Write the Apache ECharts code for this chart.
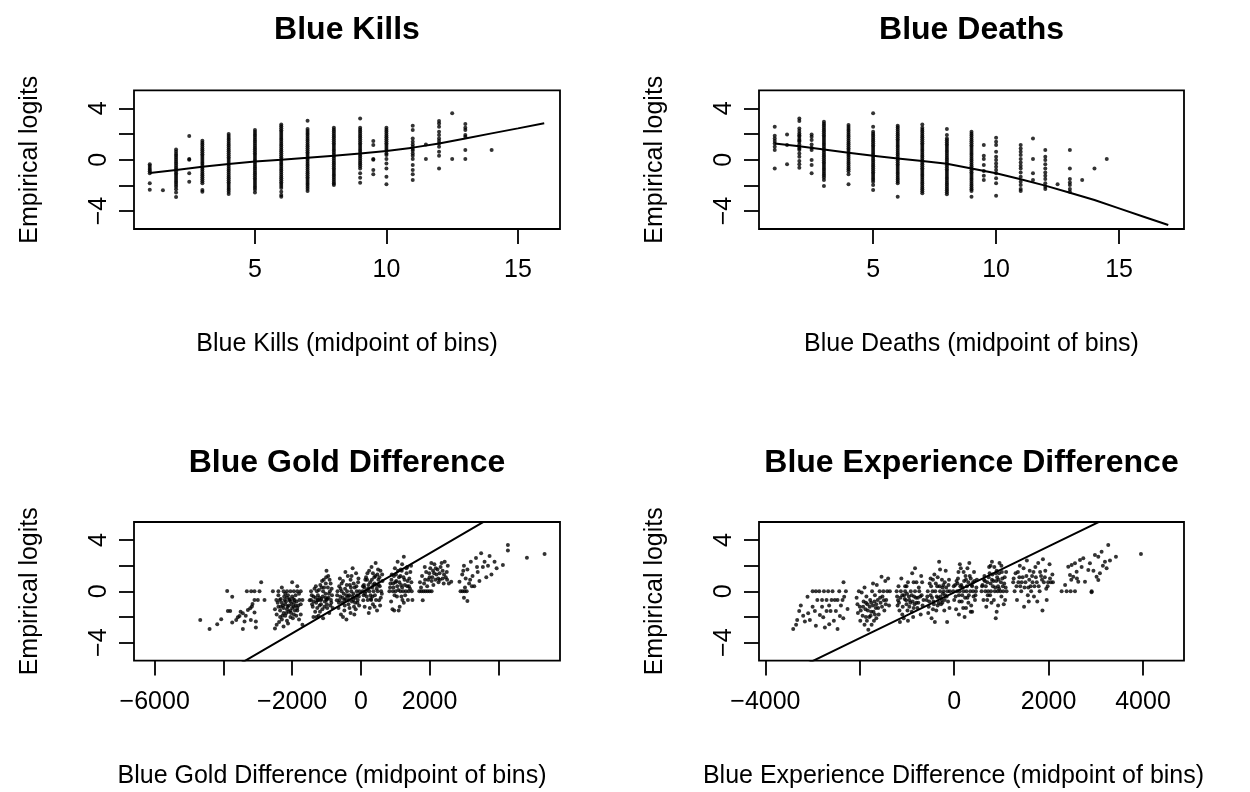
<!DOCTYPE html>
<html>
<head>
<meta charset="utf-8">
<script src="https://cdn.jsdelivr.net/npm/echarts@6/dist/echarts.min.js"></script>
<style>
  html, body { margin: 0; padding: 0; background: #fff; }
  #chart { width: 1250px; height: 792px; }
</style>
</head>
<body>
<div id="chart"></div>
<script>
// ---- Blue Kills: bin midpoints and empirical logits per bin ----
const killsX = [1, 1.5, 2, 2.5, 3, 4, 5, 6, 7, 8, 9, 9.5, 10, 11, 11.5, 12, 12.5, 13, 14];
const killsY = [
  [-0.36, -0.5, -0.64, -0.78, -0.9, -1.05, -1.84, -2.34],
  [-2.39],
  [0.8, 0.62, 0.45, 0.3, 0.15, 0, -0.15, -0.3, -0.45, -0.6, -0.75, -0.9, -1.05, -1.2, -1.35, -1.5, -1.65, -1.8, -1.95, -2.1, -2.3, -2.55, -2.9],
  [1.84, 0.05, 0, -1.06, -1.71],
  [1.48, 1.33, 1.18, 1.03, 0.88, 0.73, 0.58, 0.43, 0.28, 0.13, -0.02, -0.17, -0.32, -0.47, -0.62, -0.77, -0.92, -1.07, -1.22, -1.37, -1.52, -1.67, -1.84, -2.36, -2.49],
  [2.0, 1.85, 1.7, 1.55, 1.4, 1.25, 1.1, 0.95, 0.8, 0.65, 0.5, 0.35, 0.2, 0.05, -0.1, -0.25, -0.4, -0.55, -0.7, -0.85, -1.0, -1.15, -1.3, -1.45, -1.6, -1.75, -1.9, -2.05, -2.2, -2.35, -2.5, -2.68],
  [2.31, 2.16, 2.01, 1.86, 1.71, 1.56, 1.41, 1.26, 1.11, 0.96, 0.81, 0.66, 0.51, 0.36, 0.21, 0.06, -0.09, -0.24, -0.39, -0.54, -0.69, -0.84, -0.99, -1.14, -1.29, -1.44, -1.59, -1.74, -1.89, -2.04, -2.19, -2.34, -2.55],
  [2.75, 2.6, 2.45, 2.3, 2.15, 2.0, 1.85, 1.7, 1.55, 1.4, 1.25, 1.1, 0.95, 0.8, 0.65, 0.5, 0.35, 0.2, 0.05, -0.1, -0.25, -0.4, -0.55, -0.7, -0.85, -1.0, -1.15, -1.3, -1.45, -1.6, -1.75, -1.9, -2.05, -2.2, -2.5, -2.75, -2.88],
  [3.04, 2.39, 2.24, 2.09, 1.94, 1.79, 1.64, 1.49, 1.34, 1.19, 1.04, 0.89, 0.74, 0.59, 0.44, 0.29, 0.14, -0.01, -0.16, -0.31, -0.46, -0.61, -0.76, -0.91, -1.06, -1.21, -1.36, -1.51, -1.66, -1.81, -1.96, -2.11, -2.26, -2.44],
  [2.49, 2.34, 2.19, 2.04, 1.89, 1.74, 1.59, 1.44, 1.29, 1.14, 0.99, 0.84, 0.69, 0.54, 0.39, 0.24, 0.09, -0.06, -0.21, -0.36, -0.51, -0.66, -0.81, -0.96, -1.11, -1.26, -1.41, -1.56, -1.71, -1.86, -1.97],
  [3.22, 2.49, 2.34, 2.19, 2.04, 1.89, 1.74, 1.59, 1.44, 1.29, 1.14, 0.99, 0.84, 0.69, 0.54, 0.39, 0.24, 0.09, -0.06, -0.21, -0.36, -0.51, -0.68, -1.06, -1.4, -1.79],
  [1.45, 1.14, 0.05, 0, -0.8, -1.14],
  [2.49, 2.34, 2.19, 2.04, 1.89, 1.74, 1.59, 1.44, 1.29, 1.14, 0.99, 0.84, 0.69, 0.49, 0.36, 0.05, -0.29, -0.68, -1.32, -1.92],
  [2.65, 2.31, 1.66, 1.4, 1.19, 1.0, 0.83, 0.7, 0.49, 0.31, 0.05, -0.42, -0.8, -1.14, -1.58],
  [1.19, 0.05],
  [3.01, 2.83, 2.57, 2.18, 1.92, 1.66, 1.45, 1.27, 1.01, 0.62, 0.31, -0.68],
  [3.61, 0.05],
  [2.78, 2.49, 2.31, 1.92, 1.79, 0.75, 0.05],
  [0.75]
];
const killsFit = [[1, -1.03], [2, -0.8], [3, -0.55], [4, -0.33], [5, -0.14], [6, 0.0], [7, 0.15], [8, 0.31],
  [9, 0.48], [10, 0.68], [11, 0.94], [12, 1.27], [13, 1.66], [14, 2.05], [15, 2.44], [16, 2.84]];

// ---- Blue Deaths ----
const deathsX = [1, 1.5, 2, 2.5, 3, 4, 5, 6, 7, 8, 9, 9.5, 10, 11, 11.5, 12, 12.5, 13, 13.5, 14, 14.5];
const deathsY = [
  [2.57, 1.87, 1.66, 1.45, 1.27, 1.0, 0.75, -0.68],
  [1.97, 1.14, -0.36],
  [3.22, 3.01, 2.44, 2.23, 2.05, 1.9, 1.79, 1.61, 1.5, 1.4, 1.19, 1.01, 0.88, 0.75, 0.49, 0.23, -0.1, -0.36, -0.62],
  [1.97, 1.79, 1.53, 1.19, 0.94, 0.75, -0.03, -0.42, -1.06],
  [2.96, 2.81, 2.66, 2.51, 2.36, 2.21, 2.06, 1.91, 1.76, 1.61, 1.46, 1.31, 1.16, 1.01, 0.86, 0.71, 0.56, 0.41, 0.26, 0.11, -0.04, -0.19, -0.34, -0.49, -0.64, -0.79, -0.94, -1.09, -1.24, -1.39, -1.58, -2.05],
  [2.7, 2.55, 2.4, 2.25, 2.1, 1.95, 1.8, 1.65, 1.5, 1.35, 1.2, 1.05, 0.9, 0.75, 0.6, 0.45, 0.3, 0.15, 0, -0.15, -0.3, -0.45, -0.6, -0.75, -0.9, -1.14, -1.92],
  [3.61, 2.57, 2.18, 2.03, 1.88, 1.73, 1.58, 1.43, 1.28, 1.13, 0.98, 0.83, 0.68, 0.53, 0.38, 0.23, 0.08, -0.07, -0.22, -0.37, -0.52, -0.67, -0.82, -0.97, -1.12, -1.27, -1.42, -1.57, -1.72, -1.97, -2.36],
  [2.65, 2.5, 2.35, 2.2, 2.05, 1.9, 1.75, 1.6, 1.45, 1.3, 1.15, 1.0, 0.85, 0.7, 0.55, 0.4, 0.25, 0.1, -0.05, -0.2, -0.35, -0.5, -0.65, -0.8, -0.95, -1.1, -1.25, -1.4, -1.55, -1.7, -1.84, -2.88],
  [2.75, 2.49, 2.34, 2.19, 2.04, 1.89, 1.74, 1.59, 1.44, 1.29, 1.14, 0.99, 0.84, 0.69, 0.54, 0.39, 0.24, 0.09, -0.06, -0.21, -0.36, -0.51, -0.66, -0.81, -0.96, -1.11, -1.26, -1.41, -1.56, -1.71, -1.86, -2.01, -2.16, -2.31, -2.46, -2.62],
  [2.39, 1.92, 1.66, 1.51, 1.36, 1.21, 1.06, 0.91, 0.76, 0.61, 0.46, 0.31, 0.16, 0.01, -0.14, -0.29, -0.44, -0.59, -0.74, -0.89, -1.04, -1.19, -1.34, -1.49, -1.64, -1.79, -1.94, -2.09, -2.24, -2.39, -2.54, -2.7],
  [2.18, 2.03, 1.88, 1.73, 1.58, 1.43, 1.28, 1.13, 0.98, 0.83, 0.68, 0.53, 0.38, 0.23, 0.08, -0.07, -0.22, -0.37, -0.52, -0.67, -0.82, -0.97, -1.12, -1.27, -1.42, -1.57, -1.72, -1.87, -2.02, -2.17, -2.3, -2.44, -2.88],
  [1.14, 0.31, 0.05, -0.42, -0.88, -1.25, -1.58],
  [1.71, 1.4, 1.14, 0.62, 0.23, -0.03, -0.29, -0.55, -0.8, -1.06, -1.45, -1.84, -2.8],
  [1.14, 0.88, 0.62, 0.36, 0.05, -0.21, -0.47, -0.68, -0.99, -1.32, -1.71, -1.97, -2.29, -2.44],
  [1.66, 0.05, -1.06, -1.58],
  [0.75, 0.23, -0.03, -0.36, -0.68, -0.99, -1.25, -1.51, -1.84, -2.1, -2.29],
  [-1.92],
  [0.75, -0.68, -1.51, -1.77, -1.97, -2.29, -2.49],
  [-1.58],
  [-0.68],
  [0.05]
];
const deathsFit = [[1, 1.27], [2, 1.05], [3, 0.8], [4, 0.55], [5, 0.3], [6, 0.1], [7, -0.1], [8, -0.31], [9, -0.68],
  [10, -1.06], [11, -1.52], [12, -2.02], [13, -2.57], [14, -3.14], [15, -3.79], [16, -4.44], [17, -5.09]];

// ---- Blue Gold Difference: [midpoint, empirical logit] ----
const goldPts = [
  [-4674, -2.23], [-4403, -2.94], [-4180, -2.57], [-4064, -2.18], [-3890, 0.03], [-3744, -0.42], [-3870, -1.53], [-3802, -1.53],
  [-3744, -2.44], [-3628, -2.23], [-3580, -2.03], [-3531, -1.92], [-3434, -1.71], [-3386, -2.36], [-3289, -1.45], [-3221, -1.32],
  [-3172, -1.19], [-3434, -2.94], [-3318, 0], [-3192, 0], [-3095, 0], [-2950, 0], [-2901, 0.7], [-3202, -2.23], [-3095, -0.68],
  [-2998, -0.68], [-3153, -0.99], [-3056, -2.36], [-3056, -2.83], [-3095, -1.66], [-2804, -0.68], [-3500, -1.6], [-3350, -1.9],
  [-2560, 0], [-2400, 0], [-2250, 0], [-2150, 0], [-2050, 0], [-1950, 0], [-1850, 0], [-1750, 0],
  [-2460, -0.68], [-2360, -0.68], [-2220, -0.68], [-2080, -0.68], [-1930, -0.68], [-1790, -0.68], [-1700, -0.68],
  [-2500, -2.9], [-2450, -2.6], [-2380, -2.4], [-2300, -2.2], [-2250, -2.75], [-2200, -1.9], [-2150, -2.3], [-2100, -1.6],
  [-2050, -2.0], [-2000, -1.3], [-1950, -1.8], [-1900, -1.1], [-1850, -1.5], [-1800, -2.2], [-1750, -1.0], [-2450, -1.8],
  [-2400, -1.2], [-2350, -1.5], [-2300, -0.9], [-2250, -1.3], [-2200, -1.0], [-2150, -0.5], [-2100, -1.1], [-2050, -0.8],
  [-2000, -0.4], [-1950, -0.9], [-1900, -0.3], [-1850, -1.3], [-1800, -0.2], [-1750, -1.8], [-2350, -2.0], [-2250, -1.7],
  [-2150, -1.4], [-2050, -1.5], [-1950, -1.2], [-2400, -0.3], [-2300, 0.3], [-2000, 0.7], [-1850, 0.4], [-2200, -0.2],
  [-1700, -2.6], [-2500, -1.4], [-2120, -2.5], [-1980, -2.1],
  [-2420, -0.9], [-2330, -0.6], [-2270, -1.1], [-2180, -0.8], [-2130, -1.2], [-2070, -0.6], [-2020, -1.0], [-1970, -0.6],
  [-1920, -1.5], [-1870, -0.8], [-2230, -0.4], [-2120, -0.3], [-2030, -1.7], [-1880, -1.9], [-2280, -1.9], [-2170, -1.7],
  [-2330, -1.2], [-1820, -1.1],
  [-1490, -0.7], [-1450, 0], [-1400, -1.2], [-1380, -0.4], [-1350, 0.2], [-1330, -1.6], [-1300, -0.9], [-1280, 0],
  [-1250, -0.3], [-1230, -1.9], [-1200, -1.1], [-1180, 0.5], [-1150, -0.6], [-1120, -1.4], [-1100, 0], [-1080, 0.9],
  [-1050, -0.8], [-1030, -0.2], [-1000, 1.6], [-990, -1.0], [-960, 0.3], [-940, -0.5], [-920, -1.7], [-900, 0],
  [-880, 0.6], [-860, -0.9], [-840, -0.3], [-820, -1.3], [-1420, -1.0], [-1260, -0.7], [-1140, 0.3], [-1060, -1.2],
  [-980, -0.6], [-1220, 0.1], [-1320, -0.5], [-1170, -0.7], [-1020, 0.6], [-950, 1.2], [-1380, -2.0], [-1100, -2.1],
  [-870, -0.68], [-1250, -0.68], [-1000, -0.68], [-1450, -0.68],
  [-1430, -0.3], [-1370, -0.8], [-1310, 0.4], [-1270, -1.3], [-1210, -0.5], [-1160, -1.0], [-1110, -0.4], [-1070, 0.3],
  [-1030, -0.5], [-980, -1.3], [-930, -0.2], [-890, -1.1], [-850, 0.2], [-1190, -1.6], [-1290, -2.0], [-1010, 1.1],
  [-1130, 0.8], [-910, 0.9],
  [-700, -0.7], [-680, 0], [-650, -1.3], [-630, 0.4], [-600, -0.4], [-580, -1.8], [-560, 0], [-540, -0.9], [-520, 0.8],
  [-500, -0.2], [-480, -1.5], [-460, 0.2], [-440, -0.6], [-420, -2.2], [-400, 0], [-380, 1.2], [-360, -1.0], [-340, -0.3],
  [-320, 0.5], [-300, -1.7], [-280, 0], [-260, -0.8], [-240, 1.8], [-220, -0.2], [-200, -1.2], [-180, 0.3], [-160, -0.5],
  [-140, 1.4], [-120, 0], [-100, -0.9], [-80, 0.7], [-60, -0.4], [-40, 0], [-620, -0.68], [-480, -0.68], [-350, -0.68],
  [-220, -0.68], [-90, -0.68], [-560, 0.6], [-420, -0.3], [-300, 0.9], [-150, -1.4], [-520, -2.0],
  [-690, -0.3], [-640, -0.9], [-590, 0.2], [-530, -0.5], [-470, -1.1], [-410, 0.5], [-370, -0.4], [-330, -1.3],
  [-290, 0.3], [-250, -0.4], [-210, 0.6], [-170, -0.9], [-130, 0.4], [-110, -0.3], [-70, 1.0], [-50, -1.1],
  [-610, 1.0], [-450, 1.5], [-270, 1.2], [-190, -1.8],
  [50, 0], [70, -0.7], [90, 0.5], [110, -1.2], [130, 0.9], [150, 0], [170, -0.4], [190, 1.4], [210, 0.2], [230, -1.7],
  [250, 0], [270, 0.7], [290, -0.6], [310, 1.9], [330, 0.3], [350, -1.0], [370, 0], [390, 1.1], [410, -0.3], [430, 2.2],
  [450, 0.5], [470, -1.5], [490, 0], [510, 0.9], [530, -0.7], [550, 0.4], [570, 1.6], [590, 0], [610, -0.2], [630, 0.8],
  [100, 0.3], [200, -0.68], [300, -0.68], [400, 0.6], [480, 1.3], [560, -1.1], [150, 1.1], [260, -1.3], [350, 1.4], [440, -0.68],
  [60, 0.4], [120, -0.2], [180, 0.9], [220, 0.5], [280, -0.3], [320, 0.9], [360, 0.5], [420, 1.2], [460, 0.2],
  [520, 0.5], [580, -0.5], [620, 1.3], [240, 1.6], [400, -1.2], [500, 1.7], [80, -0.3], [340, -0.4], [540, 1.1],
  [830, 0], [860, 0.6], [880, -0.8], [900, 1.3], [930, 0], [950, 0.3], [970, -1.5], [990, 1.8], [1010, 0], [1030, 0.8],
  [1050, -0.4], [1070, 2.3], [1090, 0.1], [1110, 1.1], [1130, -1.2], [1150, 0], [1170, 0.5], [1190, 1.6], [1210, -0.68],
  [1230, 0], [1250, 2.7], [1270, 0.9], [1290, -0.3], [1310, 0], [1330, 1.4], [1350, 0.4], [1370, -0.68], [1390, 0],
  [1410, 1.0], [1430, 0.2], [1460, 2.0], [1480, 0], [1500, -0.68], [920, -1.4], [1100, -1.5], [1200, 2.1], [1350, 1.9],
  [1000, 0.7], [1150, 1.2],
  [850, 0.3], [890, 0.9], [940, 0.6], [980, -0.3], [1020, 1.3], [1060, 0.4], [1120, 0.7], [1160, 1.7], [1200, 0.3],
  [1240, 1.1], [1280, 0.5], [1320, 1.8], [1360, 0.8], [1400, 0.4], [1440, 1.5], [1470, 0.7], [1080, 1.6], [1250, -0.9],
  [960, 1.2], [1180, -0.4],
  [1700, 0], [1760, 0], [1820, 0], [1880, 0], [1940, 0], [2000, 0], [2060, 0], [1800, -0.7], [1720, 0.7], [1780, 1.2],
  [1840, 0.6], [1900, 1.5], [1960, 0.9], [2020, 1.8], [2080, 1.1], [2140, 2.1], [2200, 1.3], [2260, 0.7], [2320, 1.9],
  [2380, 1.0], [2440, 2.3], [2500, 1.5], [2560, 0.6], [1860, 1.9], [1990, 1.4], [2110, 0.5], [2230, 1.7], [2350, 2.2],
  [2470, 1.1], [1930, 0.4], [2050, 2.2], [2170, 0.9], [2290, 1.4], [2410, 0.6], [2530, 2.0], [2100, 1.6], [2300, 0.9],
  [1750, 0.3], [1870, 0.9], [2000, 1.1], [2130, 1.4], [2250, 1.0], [2380, 1.6], [2510, 0.9], [2060, 0.8], [2180, 1.8], [2420, 1.3],
  [2630, 0.75], [2870, 0.75], [2900, 0], [2960, 0], [3020, 0], [3080, 0], [3000, -0.5], [3100, -0.75], [2950, 1.3],
  [3000, 2.0], [3050, 1.0], [3100, 1.7], [3150, 0.6], [3200, 2.3], [3250, 1.2], [3300, 0.4], [3350, 2.6], [3400, 1.5],
  [3450, 0.8], [3500, 2.96], [3550, 1.9], [3600, 2.3], [3650, 1.1], [3700, 2.0], [3745, 2.75], [3800, 1.3], [3890, 2.31],
  [3950, 1.8], [4133, 2.05], [2980, 1.6], [3180, 0.9], [3380, 1.9], [3030, 0.3], [3230, 0.4],
  [4279, 3.6], [4279, 3.17], [4832, 2.62], [5346, 2.9]
];
const goldFit = [[-4000, -6.4], [-2000, -3.27], [0, -0.15], [2000, 2.96], [4000, 6.08]];

// ---- Blue Experience Difference ----
const expPts = [
  [-3411, -2.94], [-3327, -2.23], [-3284, -1.53], [-3164, -2.36], [-3094, -1.71], [-3058, -2.23], [-3108, -0.42],
  [-2952, -1.53], [-2931, 0], [-2860, 0], [-2931, -2.68], [-2846, -1.84], [-2775, -2.03], [-2740, -2.83], [-2705, -0.68],
  [-2705, -1.53], [-2670, 0], [-2648, -2.57], [-2620, -1.53], [-2599, -0.68], [-2578, 0], [-2507, -1.53], [-2472, -2.94],
  [-2472, -0.68], [-2436, 0], [-2422, -1.92], [-2366, -0.68], [-2345, 0.7], [-2331, -0.42], [-2295, 0], [-2260, -1.38],
  [-3200, -1.9], [-2800, -1.2], [-2550, -2.3], [-3000, 0], [-2760, 0], [-2900, -0.68], [-2800, -0.68], [-2530, -0.68],
  [-3250, -1.1], [-3000, -1.2], [-2650, -1.1], [-2400, -1.1], [-2350, -2.1], [-3350, -2.6],
  [-2068, -0.5], [-2040, -1.7], [-2000, -1.2], [-1990, -2.3], [-1960, -0.1], [-1940, -1.9], [-1920, -0.8], [-1900, -2.6],
  [-1880, -1.4], [-1860, -0.4], [-1840, -1.0], [-1820, -3.0], [-1800, -2.0], [-1780, -0.68], [-1760, -1.6], [-1740, 0],
  [-1720, -1.1], [-1700, -2.3], [-1680, -0.3], [-1660, -1.3], [-1640, 0.5], [-1620, -0.68], [-1600, -1.8], [-1580, 0],
  [-1560, -0.9], [-1540, 1.14], [-1520, -0.4], [-1500, 0], [-1480, -1.5], [-1460, 0.8], [-1440, -0.68], [-1420, 0],
  [-1400, 1.0], [-1380, -1.1], [-1363, 0], [-1850, -2.3], [-1750, -2.6], [-1650, -2.1], [-1900, 0.3], [-1720, 0.6], [-2020, 0],
  [-2050, -1.0], [-1980, -1.5], [-1930, -1.2], [-1870, -0.9], [-1830, -1.5], [-1790, -1.2], [-1760, -0.9], [-1710, -1.6],
  [-1690, -0.8], [-1650, -1.0], [-1610, -1.3], [-1570, -0.5], [-1530, -1.2], [-1490, -0.7], [-1450, -1.0], [-1870, -2.0],
  [-1770, -1.9], [-1680, -1.8],
  [-1220, 0], [-1190, -0.7], [-1160, -1.5], [-1130, 0], [-1100, -0.3], [-1070, -2.1], [-1040, 0], [-1010, -1.0], [-980, 0.7],
  [-950, -0.68], [-920, 0], [-890, 1.4], [-860, -1.3], [-830, 0], [-800, 0.7], [-770, -0.5], [-740, 0], [-710, -1.8],
  [-680, 0.7], [-650, -0.68], [-1200, -1.1], [-1100, -1.8], [-1000, -0.2], [-900, -1.6], [-800, -0.9], [-700, 1.2],
  [-1180, 0.4], [-1050, -0.6], [-950, -1.2], [-850, -0.4], [-750, 0.3], [-1120, 1.0], [-980, -2.3], [-870, -2.0],
  [-780, -1.3], [-690, -0.3], [-1010, 0.4], [-830, 1.8], [-1150, -2.4],
  [-1210, -0.4], [-1170, -0.9], [-1140, -0.5], [-1090, -1.2], [-1060, -0.3], [-1020, -0.7], [-990, -1.5], [-960, -0.4],
  [-930, -0.9], [-900, -0.3], [-880, -0.8], [-840, -1.0], [-810, -0.5], [-760, -0.9], [-720, -0.4], [-670, -1.1],
  [-1040, 0.4], [-860, 0.7],
  [-585, -0.68], [-560, 0], [-540, -1.2], [-520, 0.6], [-500, -0.3], [-480, -2.1], [-460, 0], [-440, -0.8], [-420, 1.3],
  [-400, 0], [-380, -1.5], [-360, 0.4], [-340, -0.5], [-320, 2.3], [-300, 0], [-280, -1.0], [-260, 0.9], [-240, -0.2],
  [-220, 0], [-200, -0.68], [-180, 1.6], [-160, -0.4], [-140, 0], [-120, 0.5], [-100, -1.3], [-91, 0], [-550, -1.7],
  [-450, 0.9], [-350, -1.1], [-250, 0.3], [-150, -2.4], [-500, 1.0], [-270, -0.68], [-410, -2.4], [-300, 1.7], [-200, 0.7],
  [-570, -0.4], [-530, -0.8], [-490, 0.4], [-470, -0.5], [-430, -1.0], [-390, 0.6], [-370, -0.4], [-330, -0.9],
  [-310, 0.4], [-290, -0.4], [-250, -0.9], [-230, 0.5], [-190, -0.3], [-170, 0.3], [-130, -0.8], [-110, 0.9],
  [-450, -1.4], [-210, -1.5], [-350, 1.1],
  [-20, 0], [0, -0.68], [20, 0.5], [40, -1.4], [60, 0], [80, 1.0], [100, -0.3], [120, 0], [140, 1.8], [160, -0.8],
  [180, 0.3], [200, 0], [220, -2.0], [240, 1.2], [260, 0], [280, -0.5], [300, 0.7], [320, 2.2], [340, 0], [360, -1.1],
  [380, 0.4], [400, 0], [420, 1.5], [440, -0.68], [460, 0], [480, 0.9], [50, 0.8], [150, 0.5], [250, -1.3], [350, 1.0],
  [450, -0.3], [100, -1.8], [200, 1.5], [300, -0.9], [400, 0.7], [120, 2.1], [280, 1.8], [380, -1.6],
  [-10, 0.4], [30, -0.4], [70, 0.6], [110, -0.8], [130, 0.4], [170, -0.3], [210, 0.8], [230, -0.5], [270, 0.4],
  [310, -0.3], [330, 1.2], [370, 0.5], [410, -0.4], [430, 0.8], [470, 0.3], [90, 1.5], [190, -1.3], [350, -1.6], [250, 0.9],
  [580, 0], [600, 0.5], [620, -0.68], [640, 1.2], [660, 0], [680, -1.2], [700, 0.7], [720, 0], [740, 1.9], [760, -0.3],
  [780, 0], [800, 2.3], [820, 0.4], [840, -0.68], [860, 0], [880, 1.4], [900, -1.6], [920, 0], [940, 0.9], [960, 2.2],
  [980, 0], [1000, -0.4], [1020, 1.0], [1040, 0], [1060, 0.6], [1080, -0.68], [1100, 1.5], [1110, 0], [650, 0.8],
  [750, 1.4], [850, 1.9], [950, 0.2], [1050, -1.0], [700, -0.68], [800, 0.9], [900, 1.6], [1000, 2.0], [880, -2.1],
  [590, 0.4], [630, 0.9], [670, 0.4], [710, -0.3], [730, 1.1], [770, 0.6], [790, -0.9], [810, 1.3], [830, 0.8],
  [870, 0.3], [890, 0.8], [910, 1.1], [930, 0.4], [950, 1.4], [990, 0.7], [1010, 1.5], [1030, 0.4], [1070, 1.1],
  [1090, 0.3], [770, 2.0], [930, -1.1],
  [1250, 0.7], [1280, 0], [1300, 1.4], [1330, -0.68], [1360, 0.7], [1390, 2.0], [1420, 0], [1450, 1.1], [1480, -1.2],
  [1510, 0.7], [1540, 2.4], [1570, 0.3], [1600, 1.6], [1630, 0], [1660, 0.7], [1690, -0.4], [1720, 1.9], [1750, 0.7],
  [1780, 2.2], [1810, 0], [1840, 1.2], [1870, -1.5], [1900, 0.7], [1930, 1.6], [1960, -0.68], [1990, 0.7], [2020, 2.1],
  [2050, 0.7], [2080, 1.3], [2092, 0.7], [1350, 1.5], [1470, 1.8], [1580, -0.8], [1700, 0.4], [1820, 1.5], [1950, 0.2],
  [1400, 0.4], [1650, 1.2], [1880, 2.5],
  [1260, 1.0], [1320, 0.4], [1380, 1.1], [1430, 0.7], [1490, 0.3], [1530, 1.2], [1590, 0.9], [1620, 0.4], [1680, 1.5],
  [1730, 1.1], [1790, 0.4], [1860, 0.9], [1920, 1.1], [1980, 0.4], [2030, 1.0], [1560, -0.3], [1760, -0.8],
  [2276, 0], [2382, 0], [2467, 0], [2559, 0], [2417, 1.92], [2488, 2.05], [2559, 2.18], [2594, 1.53], [2453, 1.27],
  [2523, 1.14], [2665, 2.44], [2735, 2.57], [2876, 2.18], [2982, 2.83], [3053, 2.7], [3123, 3.09], [3264, 3.6],
  [2629, 0.75], [2771, 0.75], [2912, 0], [2841, 1.66], [3017, 1.14], [3088, 1.4], [3194, 2.31], [3229, 1.79],
  [3053, 0.88], [3427, 2.7], [2911, -0.08], [3957, 2.9],
  [2350, 0.5], [2600, 1.0], [2700, 1.9], [2950, 1.6], [3150, 2.0], [3300, 2.4], [2480, 0.9]
];
const expFit = [[-4000, -7.22], [-2000, -3.65], [0, -0.08], [2000, 3.5], [4000, 7.07]];

// ---- panel text ----
const panelTitles = ['Blue Kills', 'Blue Deaths', 'Blue Gold Difference', 'Blue Experience Difference'];
const xNames = ['Blue Kills (midpoint of bins)', 'Blue Deaths (midpoint of bins)',
  'Blue Gold Difference (midpoint of bins)', 'Blue Experience Difference (midpoint of bins)'];
const yName = 'Empirical logits';
const yTicks = [-4, -2, 0, 2, 4];
const yLabels = [-4, 0, 4];
const xTicks = [[5, 10, 15], [5, 10, 15], [-6000, -4000, -2000, 0, 2000, 4000], [-4000, -2000, 0, 2000, 4000]];
const xLabels = [[5, 10, 15], [5, 10, 15], [-6000, -2000, 0, 2000], [-4000, 0, 2000, 4000]];
const xRanges = [[0.4, 16.6], [0.36, 17.64], [-6602, 5795], [-4136, 4869]];

// ---- layout ----
const FONT = '"Liberation Sans", Arial, Helvetica, sans-serif';
const AXIS_FS = 25;
const TITLE_FS = 32;
const grids = [
  { left: 134, top: 90.4, width: 426, height: 138.6 },
  { left: 759, top: 90.4, width: 425, height: 138.6 },
  { left: 134, top: 522, width: 426, height: 138.6 },
  { left: 759, top: 522, width: 425, height: 138.6 }
];
// the long bottom-row axis titles sit a little left of the panel centre
const xNamePad = [[0, 0, 0, 0], [0, 0, 0, 0], [0, 30, 0, 0], [0, 36, 0, 0]];

const minus = v => String(v).replace('-', '\u2212');
const fromColumns = (xs, ys) => xs.flatMap((x, i) => ys[i].map(y => [x, y]));
const scatterData = [fromColumns(killsX, killsY), fromColumns(deathsX, deathsY), goldPts, expPts];
const fitData = [killsFit, deathsFit, goldFit, expFit];

const tickStyle = { show: true, inside: false, length: 15, lineStyle: { color: '#000', width: 1.8 } };
const labelText = { color: '#000', fontSize: AXIS_FS, fontFamily: FONT };

const option = {
  animation: false,
  backgroundColor: '#fff',
  grid: grids.map(g => Object.assign({ show: true, borderColor: '#000', borderWidth: 1.8,
    backgroundColor: 'transparent', containLabel: false }, g)),
  xAxis: grids.map((g, i) => ({
    type: 'value', gridIndex: i, min: xRanges[i][0], max: xRanges[i][1],
    axisLine: { show: false, onZero: false }, splitLine: { show: false },
    axisTick: Object.assign({ customValues: xTicks[i] }, tickStyle),
    axisLabel: Object.assign({ customValues: xLabels[i], formatter: minus, margin: 29 }, labelText),
    name: xNames[i], nameLocation: 'middle', nameGap: 103,
    nameTextStyle: Object.assign({ padding: xNamePad[i] }, labelText)
  })),
  yAxis: grids.map((g, i) => ({
    type: 'value', gridIndex: i, min: -5.4, max: 5.4,
    axisLine: { show: false, onZero: false }, splitLine: { show: false },
    axisTick: Object.assign({ customValues: yTicks }, tickStyle),
    axisLabel: Object.assign({ customValues: yLabels, formatter: minus, rotate: 90, margin: 22 }, labelText),
    name: yName, nameLocation: 'middle', nameGap: 91, nameRotate: 90,
    nameTextStyle: labelText
  })),
  series: [
    ...scatterData.map((d, i) => ({
      type: 'scatter', xAxisIndex: i, yAxisIndex: i, data: d,
      symbol: 'circle', symbolSize: 4, itemStyle: { color: '#000' }, silent: true
    })),
    ...fitData.map((d, i) => ({
      type: 'line', xAxisIndex: i, yAxisIndex: i, data: d, clip: true,
      showSymbol: false, symbol: 'none', smooth: false, z: 5,
      lineStyle: { color: '#000', width: 2 }, silent: true
    }))
  ],
  graphic: grids.map((g, i) => ({
    type: 'text',
    x: g.left + g.width / 2,
    y: i < 2 ? 30 : 463,
    style: { text: panelTitles[i], fill: '#000', font: 'bold ' + TITLE_FS + 'px ' + FONT, align: 'center', verticalAlign: 'middle' }
  }))
};

const chart = echarts.init(document.getElementById('chart'), null, { renderer: 'canvas' });
chart.setOption(option);
</script>
</body>
</html>
